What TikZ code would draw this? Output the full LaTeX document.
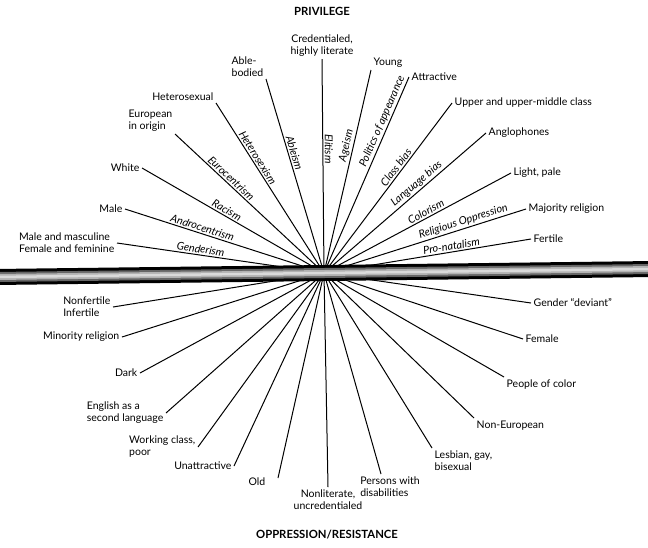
\documentclass[tikz,border=0pt]{standalone}
\usepackage{fontspec}
\setmainfont{Lato}

\begin{document}
\begin{tikzpicture}[x=1pt, y=-1pt,
    every node/.style={font=\fontsize{10.5}{12}\selectfont, inner sep=2.5pt},
    lbl/.style={align=left},
    tag/.style={font=\itshape\fontsize{10.8}{12}\selectfont, sloped, above, inner sep=1.5pt},
    head/.style={font=\bfseries\fontsize{11.3}{13}\selectfont},
    spoke/.style={line width=1pt}]
    \useasboundingbox (0,0) rectangle (648,547);
    \coordinate (hub) at (324,273);
    \coordinate (barL) at (-5,277);
    \coordinate (barR) at (653,269);

    % privilege side
    \node[head] (priv) at (322,11) {PRIVILEGE};
    \node[lbl, align=center, anchor=south] (cred) at (322,59) {Credentialed,\\highly literate};
    \node[lbl, anchor=south east] (able) at (266,79) {Able-\\bodied};
    \node[lbl, anchor=south east] (het) at (216,103) {Heterosexual};
    \node[lbl, anchor=south east] (euro) at (175,134) {European\\in origin};
    \node[lbl, anchor=east] (white) at (142,168) {White};
    \node[lbl, anchor=east] (male) at (125,209) {Male};
    \node[lbl, anchor=east] (gend) at (117,243) {Male and masculine\\Female and feminine};
    \node[lbl, anchor=south west] (young) at (371,70) {Young};
    \node[lbl, anchor=west] (attr) at (409,77) {Attractive};
    \node[lbl, anchor=west] (upper) at (452,103) {Upper and upper-middle class};
    \node[lbl, anchor=west] (angl) at (486,133) {Anglophones};
    \node[lbl, anchor=west] (light) at (511,173) {Light, pale};
    \node[lbl, anchor=west] (major) at (526,209) {Majority religion};
    \node[lbl, anchor=west] (fert) at (531,239) {Fertile};

    % oppression side
    \node[lbl, anchor=east] (infert) at (113,307) {Nonfertile\\Infertile};
    \node[lbl, anchor=east] (minrel) at (122,337) {Minority religion};
    \node[lbl, anchor=east] (dark) at (140,373) {Dark};
    \node[lbl, anchor=east] (esl) at (166,413) {English as a\\second language};
    \node[lbl, anchor=east] (work) at (198,447) {Working class,\\poor};
    \node[lbl, anchor=east] (unattr) at (234,466) {Unattractive};
    \node[lbl, anchor=east] (old) at (268,482) {Old};
    \node[lbl, align=center, anchor=north] (nonlit) at (328,487) {Nonliterate,\\uncredentialed};
    \node[lbl, anchor=north] (pwd) at (390,474) {Persons with\\disabilities};
    \node[lbl, anchor=north west] (lgb) at (432,448) {Lesbian, gay,\\bisexual};
    \node[lbl, anchor=north west] (noneur) at (474,418) {Non-European};
    \node[lbl, anchor=north west] (poc) at (504,377) {People of color};
    \node[lbl, anchor=west] (female) at (523,339) {Female};
    \node[lbl, anchor=west] (gdev) at (531,303) {Gender “deviant”};
    \node[head] (oppr) at (327,535) {OPPRESSION/RESISTANCE};

    % spokes above
    \draw[spoke] (gend.east) -- node[tag, pos=0.4] {Genderism} (hub);
    \draw[spoke] (male.east) -- node[tag, pos=0.38] {Androcentrism} (hub);
    \draw[spoke] (white.east) -- node[tag, pos=0.45] {Racism} (hub);
    \draw[spoke] (euro.south east) -- node[tag, pos=0.35] {Eurocentrism} (hub);
    \draw[spoke] (het.south east) -- node[tag, pos=0.34] {Heterosexism} (hub);
    \draw[spoke] (able.south east) -- node[tag, pos=0.39] {Ableism} (hub);
    \draw[spoke] (cred.south) -- node[tag, pos=0.42] {Elitism} (hub);
    \draw[spoke] (hub) -- node[tag, pos=0.62] {Ageism} (young.south west);
    \draw[spoke] (hub) -- node[tag, pos=0.76] {Politics of appearance} (attr.west);
    \draw[spoke] (hub) -- node[tag, pos=0.6] {Class bias} (upper.west);
    \draw[spoke] (hub) -- node[tag, pos=0.6] {Language bias} (angl.west);
    \draw[spoke] (hub) -- node[tag, pos=0.56] {Colorism} (light.west);
    \draw[spoke] (hub) -- node[tag, pos=0.7] {Religious Oppression} (major.west);
    \draw[spoke] (hub) -- node[tag, pos=0.62] {Pro-natalism} (fert.west);

    % spokes below
    \draw[spoke] (hub) -- (infert.east);
    \draw[spoke] (hub) -- (minrel.east);
    \draw[spoke] (hub) -- (dark.east);
    \draw[spoke] (hub) -- (esl.east);
    \draw[spoke] (hub) -- (work.east);
    \draw[spoke] (hub) -- (unattr.east);
    \draw[spoke] (hub) -- ([xshift=10pt, yshift=4pt]old.east);
    \draw[spoke] (hub) -- (nonlit.north);
    \draw[spoke] (hub) -- ([xshift=-9pt]pwd.north);
    \draw[spoke] (hub) -- (lgb.north west);
    \draw[spoke] (hub) -- (noneur.north west);
    \draw[spoke] (hub) -- (poc.north west);
    \draw[spoke] (hub) -- (female.west);
    \draw[spoke] (hub) -- (gdev.west);

    % the bar, a tube built from stacked strokes
    \draw[line width=16pt, black] (barL) -- (barR);
    \draw[line width=10pt, black!60] (barL) -- (barR);
    \draw[line width=6pt, black!30] (barL) -- (barR);
    \draw[line width=2.5pt, black!15] (barL) -- (barR);
\end{tikzpicture}
\end{document}
